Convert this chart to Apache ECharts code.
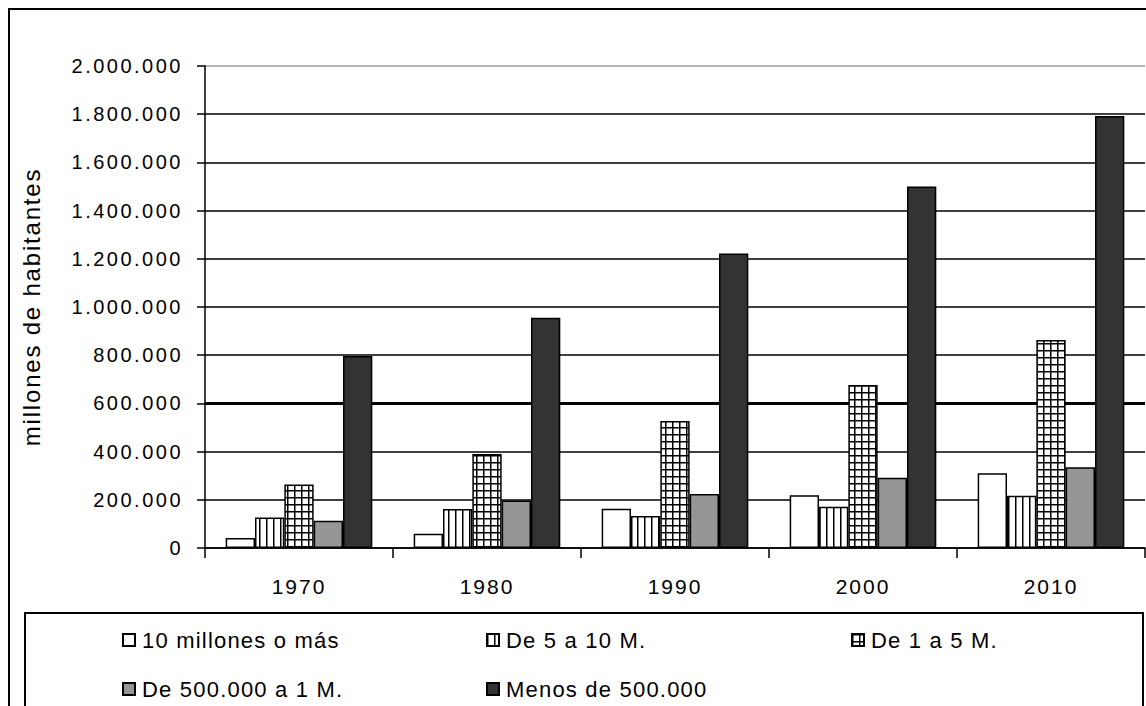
<!DOCTYPE html>
<html>
<head>
<meta charset="utf-8">
<script src="https://cdn.jsdelivr.net/npm/echarts@6/dist/echarts.min.js"></script>
<style>
  html, body { margin: 0; padding: 0; background: #fff; }
  #chart { width: 1146px; height: 706px; }
  #chart text { letter-spacing: 1.5px; }
  #chart text[style*="20px"] { letter-spacing: 2.5px; }
  #chart text[style*="21px"] { letter-spacing: 2px; }
  #chart text[style*="22px"] { letter-spacing: 1.2px; }
  #chart text[style*="24px"] { letter-spacing: 1.8px; }
</style>
</head>
<body>
<div id="chart"></div>
<script>
const categories = ['1970', '1980', '1990', '2000', '2010'];
const seriesNames = ['10 millones o más', 'De 5 a 10 M.', 'De 1 a 5 M.', 'De 500.000 a 1 M.', 'Menos de 500.000'];
const s10M = [42000, 59000, 163000, 219000, 310000];
const s5a10 = [127000, 162000, 133000, 171000, 217000];
const s1a5 = [264000, 390000, 527000, 676000, 863000];
const s500a1 = [113000, 197000, 224000, 292000, 335000];
const sMenos = [797000, 955000, 1222000, 1500000, 1793000];
const yTicks = [0, 200000, 400000, 600000, 800000, 1000000, 1200000, 1400000, 1600000, 1800000, 2000000];
const thickGridValue = 600000;

function makePattern(kind) {
  const c = document.createElement('canvas');
  const s = 7;
  c.width = s; c.height = s;
  const ctx = c.getContext('2d');
  ctx.fillStyle = '#fff';
  ctx.fillRect(0, 0, s, s);
  ctx.fillStyle = '#000';
  ctx.fillRect(0, 0, 1.5, s);
  if (kind === 'grid') ctx.fillRect(0, 0, s, 1.5);
  return { image: c, repeat: 'repeat' };
}

const fills = ['#ffffff', makePattern('stripes'), makePattern('grid'), '#969696', '#333333'];
const dataSets = [s10M, s5a10, s1a5, s500a1, sMenos];

const FONT = "'Liberation Sans', Arial, sans-serif";

const chart = echarts.init(document.getElementById('chart'), null, { renderer: 'svg' });

const legendPos = [
  { left: 117, top: 624 },
  { left: 481, top: 624 },
  { left: 846, top: 624 },
  { left: 117, top: 673 },
  { left: 481, top: 673 }
];

const splitColors = yTicks.map((v, i) => i === yTicks.length - 1 ? '#9a9a9a' : '#000');

const barSeries = seriesNames.map((n, i) => ({
  name: n,
  type: 'bar',
  z: 3,
  data: dataSets[i],
  barGap: '0%',
  barCategoryGap: '22%',
  itemStyle: { color: fills[i], borderColor: '#000', borderWidth: 1.5 }
}));

const option = {
  backgroundColor: '#fff',
  animation: false,
  graphic: [
    { type: 'rect', shape: { x: 9, y: 9, width: 1300, height: 900 }, style: { fill: 'none', stroke: '#000', lineWidth: 2 }, silent: true },
    { type: 'rect', shape: { x: 25, y: 613, width: 1118, height: 200 }, style: { fill: 'none', stroke: '#000', lineWidth: 2 }, silent: true }
  ],
  legend: seriesNames.map((n, i) => ({
    data: [n],
    left: legendPos[i].left,
    top: legendPos[i].top,
    itemWidth: 12,
    itemHeight: 12,
    itemGap: 0,
    icon: 'rect',
    selectedMode: false,
    textStyle: { fontFamily: FONT, fontSize: 22, color: '#000', padding: [0, 0, 0, 2] }
  })),
  grid: { left: 205, right: 1, top: 66, bottom: 158, containLabel: false },
  xAxis: {
    type: 'category',
    data: categories,
    axisLine: { lineStyle: { color: '#000', width: 1.5 } },
    axisTick: { show: true, length: 10, lineStyle: { color: '#000', width: 1.5 } },
    axisLabel: { fontFamily: FONT, fontSize: 21, color: '#000', margin: 28 },
    splitLine: { show: false }
  },
  yAxis: {
    type: 'value',
    min: 0,
    max: 2000000,
    interval: 200000,
    name: 'millones de habitantes',
    nameLocation: 'middle',
    nameRotate: 90,
    nameGap: 162,
    nameTextStyle: { fontFamily: FONT, fontSize: 24, color: '#000' },
    axisLine: { show: true, lineStyle: { color: '#000', width: 1.5 } },
    axisTick: { show: true, length: 8, lineStyle: { color: '#000', width: 1.5 } },
    axisLabel: {
      fontFamily: FONT, fontSize: 20, color: '#000', margin: 22,
      formatter: v => v === 0 ? '0' : String(v).replace(/\B(?=(\d{3})+(?!\d))/g, '.')
    },
    splitLine: { show: true, lineStyle: { color: splitColors, width: 1.5 } }
  },
  series: barSeries.concat([{
    name: 'grid-emphasis',
    type: 'line',
    z: 1,
    data: [],
    silent: true,
    markLine: {
      z: 1,
      silent: true,
      symbol: ['none', 'none'],
      label: { show: false },
      lineStyle: { color: '#000', width: 3, type: 'solid' },
      data: [{ yAxis: thickGridValue }]
    }
  }])
};
chart.setOption(option);
</script>
</body>
</html>
